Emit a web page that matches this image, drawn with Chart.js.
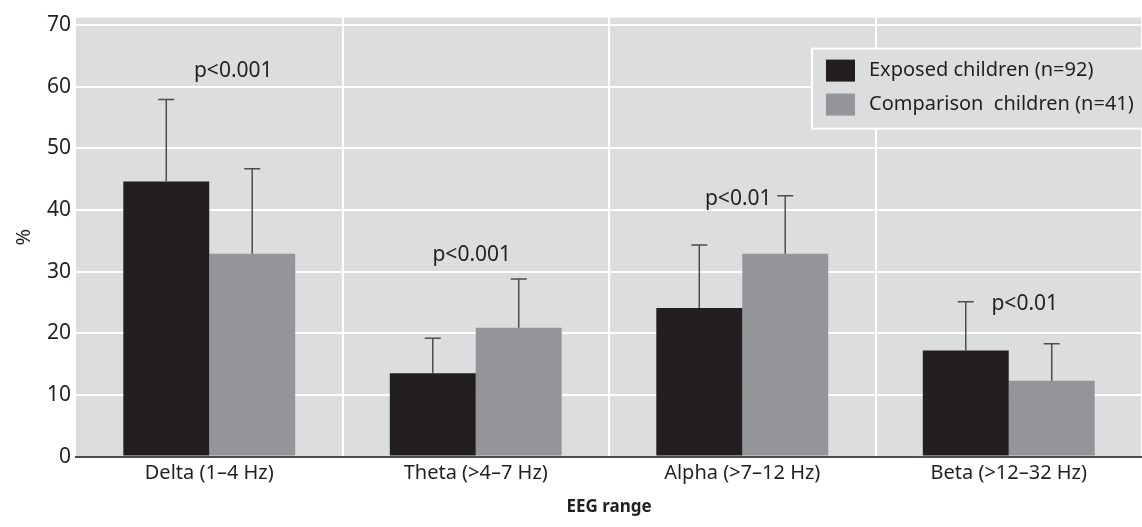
<!DOCTYPE html>
<html lang="en">
<head>
    <meta charset="UTF-8">
    <title>EEG range</title>
    <script src="https://cdn.jsdelivr.net/npm/chart.js"></script>
    <style>
        body { margin: 0; background: #fff; }
        #wrap { width: 1142px; height: 527px; }
    </style>
</head>
<body>
    <div id="wrap"><canvas id="myChart"></canvas></div>
    <script>
        // data
        const categories = ['Delta (1\u20134 Hz)', 'Theta (>4\u20137 Hz)', 'Alpha (>7\u201312 Hz)', 'Beta (>12\u201332 Hz)'];
        const exposedMean = [44.6, 13.5, 24.1, 17.2];
        const exposedSD = [13.3, 5.7, 10.2, 7.9];
        const comparisonMean = [32.9, 20.9, 32.9, 12.3];
        const comparisonSD = [13.8, 7.9, 9.4, 6.0];
        const pLabels = ['p<0.001', 'p<0.001', 'p<0.01', 'p<0.01'];
        const yTicks = [0, 10, 20, 30, 40, 50, 60, 70];

        const FONT = '"Noto Sans", "DejaVu Sans", sans-serif';
        const TEXT = '#231f20';
        const sds = [exposedSD, comparisonSD];

        // grey panel behind the plot
        const panelBg = {
            id: 'panelBg',
            beforeDraw(chart) {
                const a = chart.chartArea, c = chart.ctx;
                c.save();
                c.fillStyle = '#dcdddf';
                c.fillRect(a.left, a.top, a.right - a.left, a.bottom - a.top);
                c.restore();
            }
        };

        // SD whiskers (upper only) + p labels + legend box
        const extras = {
            id: 'extras',
            afterDatasetsDraw(chart) {
                const c = chart.ctx, y = chart.scales.y, x = chart.scales.x;
                c.save();
                c.strokeStyle = '#4d4d4f';
                c.lineWidth = 1.5;
                chart.data.datasets.forEach(function (ds, di) {
                    chart.getDatasetMeta(di).data.forEach(function (bar, i) {
                        const top = y.getPixelForValue(ds.data[i] + sds[di][i]);
                        c.beginPath();
                        c.moveTo(bar.x, bar.y);
                        c.lineTo(bar.x, top);
                        c.moveTo(bar.x - 8, top);
                        c.lineTo(bar.x + 8, top);
                        c.stroke();
                    });
                });

                // p labels: [offset from category centre in px, y value]
                const pPos = [[24, 62.5], [-4, 32.7], [-4, 41.7], [16, 24.8]];
                c.fillStyle = TEXT;
                c.font = '21px ' + FONT;
                c.textAlign = 'center';
                c.textBaseline = 'middle';
                pLabels.forEach(function (t, i) {
                    c.fillText(t, x.getPixelForValue(i) + pPos[i][0], y.getPixelForValue(pPos[i][1]));
                });

                // legend box
                const a = chart.chartArea;
                const bx = 812, by = a.top + 31, bw = a.right - bx + 4, bh = 80;
                c.fillStyle = '#dcdddf';
                c.fillRect(bx, by, bw, bh);
                c.strokeStyle = '#ffffff';
                c.lineWidth = 2;
                c.strokeRect(bx, by, bw, bh);
                c.textAlign = 'left';
                c.font = '20px ' + FONT;
                chart.data.datasets.forEach(function (ds, di) {
                    const sy = by + 11 + di * 34;
                    c.fillStyle = ds.backgroundColor;
                    c.fillRect(bx + 14, sy, 29, 22);
                    c.fillStyle = TEXT;
                    c.fillText(ds.label, bx + 57, sy + 11);
                });
                c.restore();
            }
        };

        const ctx = document.getElementById('myChart');
        const mychart = new Chart(ctx, {
            type: 'bar',
            data: {
                labels: categories,
                datasets: [{
                    label: 'Exposed children (n=92)',
                    data: exposedMean,
                    backgroundColor: '#231f20',
                    categoryPercentage: 0.645,
                    barPercentage: 1
                }, {
                    label: 'Comparison  children (n=41)',
                    data: comparisonMean,
                    backgroundColor: '#939598',
                    categoryPercentage: 0.645,
                    barPercentage: 1
                }]
            },
            options: {
                responsive: true,
                maintainAspectRatio: false,
                animation: false,
                layout: { padding: { top: 5, right: 0, bottom: 10, left: 0 } },
                plugins: {
                    legend: { display: false },
                    tooltip: { enabled: false }
                },
                scales: {
                    x: {
                        grid: {
                            offset: true,
                            drawTicks: false,
                            lineWidth: 2,
                            color: function (c) {
                                return (c.index === 0 || c.index === categories.length) ? 'rgba(0,0,0,0)' : '#ffffff';
                            }
                        },
                        border: { display: true, color: '#4d4d4f', width: 2 },
                        ticks: { color: TEXT, font: { family: FONT, size: 20 }, padding: 5 },
                        title: {
                            display: true,
                            text: 'EEG range',
                            color: TEXT,
                            font: { family: FONT, size: 17, weight: 'bold' },
                            padding: { top: 6, bottom: 0 }
                        }
                    },
                    y: {
                        min: 0,
                        max: 71.2,
                        afterBuildTicks: function (scale) {
                            scale.ticks = yTicks.map(function (v) { return { value: v }; });
                        },
                        afterFit: function (scale) { scale.width = 76; },
                        grid: {
                            drawTicks: false,
                            lineWidth: 2,
                            color: function (c) {
                                return c.tick && c.tick.value === 0 ? 'rgba(0,0,0,0)' : '#ffffff';
                            }
                        },
                        border: { display: false },
                        ticks: { color: TEXT, font: { family: FONT, size: 21 }, padding: 5 },
                        title: {
                            display: true,
                            text: '%',
                            color: TEXT,
                            font: { family: FONT, size: 20 },
                            padding: { top: 12, bottom: 0 }
                        }
                    }
                }
            },
            plugins: [panelBg, extras]
        });
    </script>
</body>
</html>
